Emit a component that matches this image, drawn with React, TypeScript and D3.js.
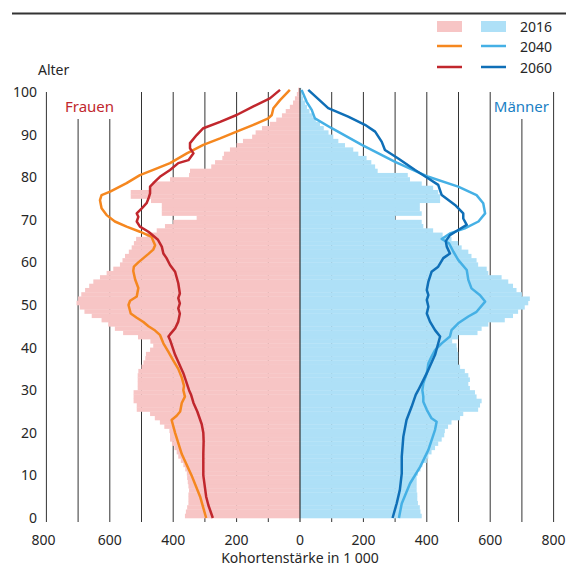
import * as d3 from 'd3';

const WIDTH = 566;
const HEIGHT = 568;

// 2016 cohorts by single year of age (0..100), in 1 000
const ages = d3.range(0, 101);

const women2016 = [
  363, 360, 356, 352, 352, 352, 350, 352, 354, 356,
  357, 362, 368, 376, 384, 389, 396, 404, 410, 410,
  412, 428, 442, 458, 473, 515, 515, 525, 525, 525,
  512, 512, 512, 512, 510, 500, 494, 488, 486, 473,
  463, 472, 511, 558, 584, 605, 626, 657, 680, 695,
  705, 700, 690, 678, 665, 652, 631, 610, 589, 568,
  560, 552, 540, 531, 524, 517, 484, 452, 426, 400,
  326, 436, 436, 436, 470, 534, 534, 473, 465, 410,
  350, 347, 280, 268, 245, 240, 221, 200, 180, 151,
  140, 120, 95, 75, 57, 45, 32, 22, 16, 10,
  6,
];

const men2016 = [
  384, 380, 378, 372, 370, 370, 368, 368, 368, 368,
  372, 380, 386, 400, 405, 415, 426, 436, 447, 455,
  457, 467, 478, 505, 515, 562, 568, 573, 557, 552,
  536, 531, 536, 531, 520, 505, 499, 499, 499, 496,
  494, 480, 499, 560, 573, 594, 646, 672, 688, 709,
  720, 725, 700, 683, 672, 657, 636, 594, 589, 562,
  557, 541, 531, 510, 499, 478, 450, 420, 389, 384,
  300, 384, 378, 378, 442, 442, 436, 420, 384, 347,
  340, 245, 237, 225, 210, 184, 168, 142, 121, 105,
  90, 75, 63, 50, 40, 30, 22, 16, 10, 6,
  4,
];

// projections, read as [age, value in 1 000]
const women2040: [number, number][] = [
  [0, 296], [5, 315], [10, 342], [15, 373], [20, 394], [23, 405], [24, 389], [25, 378],
  [27, 373], [28.5, 363], [30, 368], [31, 366], [33, 373], [35, 384], [37, 400], [39, 415],
  [41, 431], [43, 442], [44, 457], [45, 478], [46, 494], [47, 515], [48, 534], [50, 541],
  [51, 536], [52, 515], [54, 510], [55, 515], [56, 520], [58, 526], [59, 524], [60, 510],
  [61, 494], [62, 478], [63, 463], [64, 457], [65, 463], [66, 468], [67.2, 505], [68.4, 547],
  [69.6, 584], [71.1, 610], [72.7, 626], [74.6, 631], [75.8, 626], [76.6, 599], [78.6, 547],
  [80.5, 505], [81.7, 463], [83.3, 410], [85.6, 357], [87.6, 305], [89.1, 252], [90.7, 200],
  [92.3, 147], [93.8, 100], [94.6, 89], [96.2, 84], [98.1, 63], [100.5, 32],
];

const women2060: [number, number][] = [
  [0, 275], [3, 289], [5, 296], [10, 305], [15, 305], [18, 304], [20, 305], [22, 310],
  [25, 324], [27, 336], [29, 344], [30, 350], [34, 368], [38.3, 394], [41.8, 410], [42.6, 415],
  [43.1, 410], [44.5, 394], [46.1, 384], [48, 379], [49.2, 384], [50.4, 379], [51.6, 384],
  [52.7, 379], [55.1, 384], [57.8, 394], [59.4, 410], [61, 421], [62.1, 431], [63.7, 436],
  [65.3, 448], [67.2, 478], [68.4, 505], [69.6, 515], [70.7, 510], [71.5, 515], [72.7, 499],
  [73.9, 484], [75, 478], [76.2, 473], [77.8, 473], [79, 457], [80.1, 442], [81.7, 410],
  [83.3, 384], [84, 352], [85.6, 336], [86.8, 347], [88, 347], [89.9, 326], [91.5, 305],
  [93, 252], [94.6, 200], [96.6, 147], [98.5, 95], [100.5, 63],
];

const men2040: [number, number][] = [
  [0, 312], [3.4, 321], [8.1, 347], [12, 379], [16, 405], [20.7, 426], [22.6, 431], [23.4, 415],
  [25.4, 400], [27.3, 389], [28.5, 389], [30, 386], [31.6, 389], [34, 400], [36.3, 405],
  [37.9, 415], [39.4, 426], [41, 447], [42.6, 473], [44.1, 478], [45.7, 499], [47.3, 531],
  [48.4, 557], [50.8, 584], [52.3, 568], [53.9, 541], [55.9, 531], [58.2, 526], [60.6, 499],
  [62.5, 484], [64.5, 470], [65.5, 447], [66.8, 473], [68, 520], [69.6, 563], [71.5, 584],
  [73.9, 578], [75.8, 557], [77.8, 499], [80.1, 405], [83.6, 300], [87.6, 195], [91.5, 100],
  [93.8, 47], [95.8, 37], [97.7, 21], [100.5, 5],
];

const men2060: [number, number][] = [
  [0, 292], [3.4, 305], [6.6, 315], [10.5, 321], [14.4, 321], [19.1, 326], [23, 336],
  [26.1, 352], [28.9, 365], [30, 373], [34, 400], [38.3, 426], [42.6, 442], [44.1, 426],
  [46.1, 410], [48, 400], [49.6, 405], [51.2, 400], [52.3, 405], [53.5, 400], [55.5, 405],
  [57.8, 415], [59, 436], [61, 452], [62.1, 473], [63.7, 463], [65, 460], [66.4, 473],
  [67.6, 499], [68.8, 526], [70.3, 515], [71.5, 515], [73.5, 489], [75.8, 447], [78.2, 436],
  [79.7, 405], [81.7, 363], [84.4, 310], [86.4, 268], [88.3, 258], [90.7, 237], [92.3, 205],
  [94.2, 152], [96.2, 89], [100.5, 26],
];

const xTicks = [100, 200, 300, 400, 500, 600, 700, 800];
const xTickLabels = [0, 200, 400, 600, 800];
const yTicks = d3.range(0, 101, 10);
const legendYears = ['2016', '2040', '2060'];

const PINK = '#f7c5c5';
const BLUE = '#aee0f7';
const ORANGE = '#f5871f';
const RED = '#c1272d';
const LIGHTBLUE = '#45b0e5';
const DARKBLUE = '#0f6fb7';
const FONT = '"Noto Sans", sans-serif';
const TEXT = '#262626';

const CENTER = 300;
const xLeft = d3.scaleLinear().domain([0, 800]).range([CENTER, CENTER - 253.6]);
const xRight = d3.scaleLinear().domain([0, 800]).range([CENTER, CENTER + 253.6]);
const y = d3.scaleLinear().domain([0, 100]).range([518, 92]);

function App() {
  const rowH = y(0) - y(1);

  const lineLeft = d3
    .line<[number, number]>()
    .x((d) => xLeft(d[1]))
    .y((d) => y(d[0]))
    .curve(d3.curveLinear);
  const lineRight = d3
    .line<[number, number]>()
    .x((d) => xRight(d[1]))
    .y((d) => y(d[0]))
    .curve(d3.curveLinear);

  // gridlines hidden behind the label boxes
  const hiddenLeft = [600, 700];
  const hiddenRight = [700];
  const gridTop = y(100);
  const gridBottom = y(0) + 4;
  const labelBottom = 119;

  return (
    <svg
      width={WIDTH}
      height={HEIGHT}
      style={{position: 'absolute', left: 0, top: 0, background: '#fff'}}
      fontFamily={FONT}
    >
      <line x1={12} x2={WIDTH} y1={13.5} y2={13.5} stroke="#333" strokeWidth={2} />

      {/* legend */}
      <rect x={437} y={21} width={25} height={11} fill={PINK} />
      <rect x={481} y={21} width={25} height={11} fill={BLUE} />
      <line x1={437} x2={462} y1={46} y2={46} stroke={ORANGE} strokeWidth={2.5} />
      <line x1={481} x2={506} y1={46} y2={46} stroke={LIGHTBLUE} strokeWidth={2.5} />
      <line x1={437} x2={462} y1={67} y2={67} stroke={RED} strokeWidth={2.5} />
      <line x1={481} x2={506} y1={67} y2={67} stroke={DARKBLUE} strokeWidth={2.5} />
      {legendYears.map((t, i) => (
        <text key={t} x={520} y={27 + i * 20.5} dy="0.35em" fontSize={14} fill={TEXT}>
          {t}
        </text>
      ))}

      <text x={38} y={70} dy="0.35em" fontSize={14} fill={TEXT}>Alter</text>

      {/* vertical gridlines */}
      {xTicks.map((v) => (
        <line
          key={`gl${v}`}
          x1={xLeft(v)}
          x2={xLeft(v)}
          y1={hiddenLeft.includes(v) ? labelBottom : gridTop}
          y2={gridBottom}
          stroke="#333"
          strokeWidth={1}
        />
      ))}
      {xTicks.map((v) => (
        <line
          key={`gr${v}`}
          x1={xRight(v)}
          x2={xRight(v)}
          y1={hiddenRight.includes(v) ? labelBottom : gridTop}
          y2={gridBottom}
          stroke="#333"
          strokeWidth={1}
        />
      ))}

      {/* 2016 bars */}
      {ages.map((a, i) => (
        <rect
          key={`w${a}`}
          x={xLeft(women2016[i])}
          y={y(a + 1)}
          width={CENTER - xLeft(women2016[i])}
          height={rowH + 0.3}
          fill={PINK}
        />
      ))}
      {ages.map((a, i) => (
        <rect
          key={`m${a}`}
          x={CENTER}
          y={y(a + 1)}
          width={xRight(men2016[i]) - CENTER}
          height={rowH + 0.3}
          fill={BLUE}
        />
      ))}

      <line x1={CENTER} x2={CENTER} y1={gridTop - 4} y2={gridBottom} stroke="#333" strokeWidth={1.2} />

      {/* projections */}
      <path d={lineLeft(women2040)!} fill="none" stroke={ORANGE} strokeWidth={2.5} strokeLinejoin="round" />
      <path d={lineLeft(women2060)!} fill="none" stroke={RED} strokeWidth={2.5} strokeLinejoin="round" />
      <path d={lineRight(men2040)!} fill="none" stroke={LIGHTBLUE} strokeWidth={2.5} strokeLinejoin="round" />
      <path d={lineRight(men2060)!} fill="none" stroke={DARKBLUE} strokeWidth={2.5} strokeLinejoin="round" />

      <text x={65} y={107} dy="0.35em" fontSize={15} fill={RED}>Frauen</text>
      <text x={549} y={107} dy="0.35em" fontSize={15} fill="#1a80c4" textAnchor="end">Männer</text>

      {/* y axis labels */}
      {yTicks.map((v) => (
        <text key={`y${v}`} x={37} y={y(v)} dy="0.35em" fontSize={14} fill={TEXT} textAnchor="end">
          {v}
        </text>
      ))}

      {/* x axis labels */}
      {xTickLabels.map((v) => (
        <text key={`xl${v}`} x={xLeft(v) - (v === 800 ? 3 : 0)} y={540} dy="0.35em" fontSize={14} fill={TEXT} textAnchor="middle">
          {v}
        </text>
      ))}
      {xTickLabels.filter((v) => v > 0).map((v) => (
        <text key={`xr${v}`} x={xRight(v)} y={540} dy="0.35em" fontSize={14} fill={TEXT} textAnchor="middle">
          {v}
        </text>
      ))}
      <text x={CENTER} y={558.5} dy="0.35em" fontSize={14} fill={TEXT} textAnchor="middle">
        Kohortenstärke in 1 000
      </text>
    </svg>
  );
}

export default App;
